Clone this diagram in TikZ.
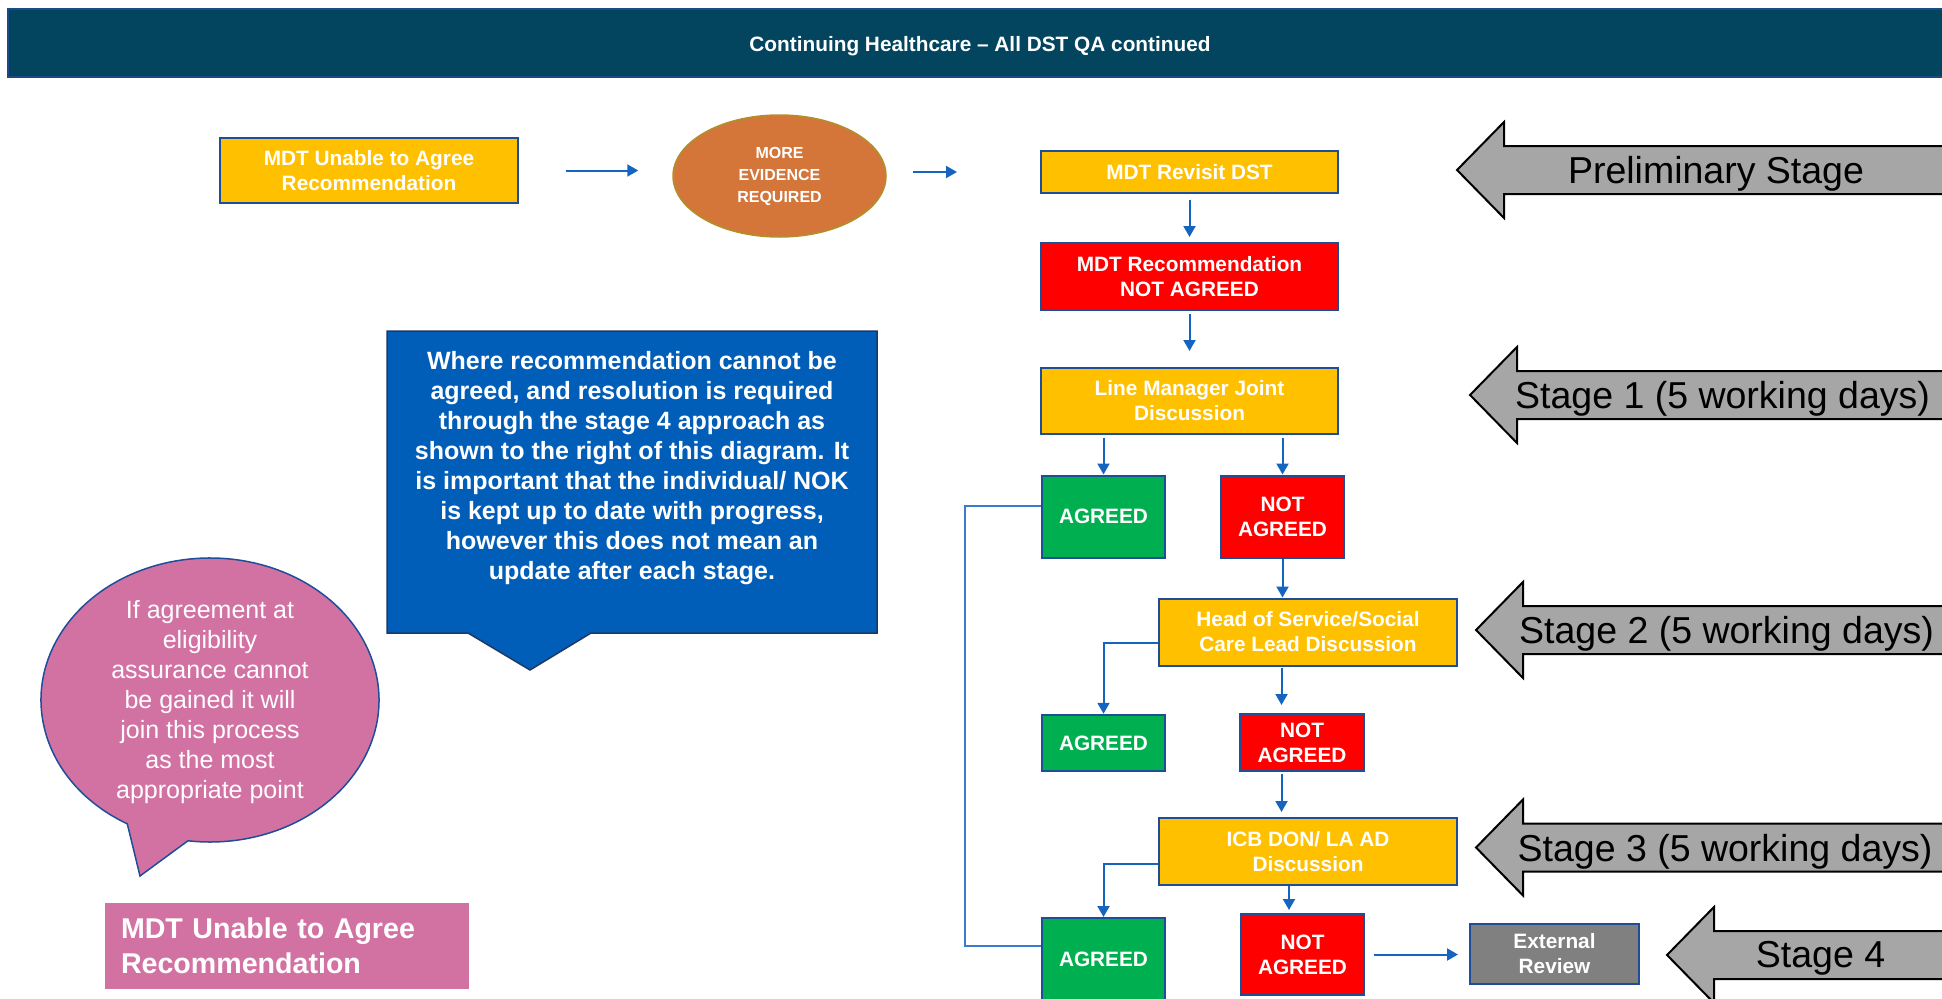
\documentclass[tikz,border=0pt]{standalone}
\usepackage{fontspec}
\setmainfont{Liberation Sans}
\usetikzlibrary{arrows.meta,shapes.geometric}

\definecolor{bannerfill}{HTML}{03445F}
\definecolor{banneredge}{HTML}{1B4A8A}
\definecolor{boxedge}{HTML}{1F4E99}
\definecolor{amber}{HTML}{FFC000}
\definecolor{alarm}{HTML}{FF0000}
\definecolor{okgreen}{HTML}{00B050}
\definecolor{midgrey}{HTML}{808080}
\definecolor{stagegrey}{HTML}{A6A6A6}
\definecolor{flowblue}{HTML}{1565C0}
\definecolor{loopblue}{HTML}{3A7BCB}
\definecolor{notefill}{HTML}{005EB8}
\definecolor{noteedge}{HTML}{1F3864}
\definecolor{pink}{HTML}{D272A3}
\definecolor{rust}{HTML}{D4763A}
\definecolor{olive}{HTML}{B0902A}

\newcommand\boxfont{\fontsize{20.8}{25}\selectfont\bfseries}
\newcommand\stagefont{\fontsize{37.5}{45}\selectfont}

% grey arrow pointing left, tip at #1, running off to the right edge
\newcommand\stagearrow[1]{%
  \path[stageshape] #1 -- ++(47,-48) -- ++(0,24) -- ++(600,0) -- ++(0,48)
    -- ++(-600,0) -- ++(0,24) -- cycle;}

\begin{document}
\begin{tikzpicture}[x=1pt,y=-1pt,
  box/.style={draw=boxedge, line width=2pt, text=white, font=\boxfont,
    align=center, inner sep=0pt},
  flow/.style={draw=flowblue, line width=2pt,
    -{Triangle[length=11pt,width=12pt]}},
  loopline/.style={draw=loopblue, line width=1.5pt},
  stageshape/.style={fill=stagegrey, draw=black, line width=2pt, line join=miter},
  stagetext/.style={font=\stagefont, text=black, inner sep=0pt},
]
\useasboundingbox (0,0) rectangle (1942,998);
\begin{scope}
\clip (0,0) rectangle (1942,998);

% title banner
\path[fill=bannerfill, draw=banneredge, line width=1.5pt] (8,9) rectangle (1950,77);
\node[text=white, font=\fontsize{20.8}{25}\selectfont\bfseries] (title) at (980,46)
  {Continuing Healthcare – All DST QA continued};

% preliminary row
\node[box, fill=amber, minimum width=298pt, minimum height=65pt] (mdtA) at (369,170.5)
  {MDT Unable to Agree\\Recommendation};
\node[ellipse, fill=rust, draw=olive, line width=1.5pt, minimum width=213pt,
  minimum height=122pt, inner sep=0pt, text=white, align=center,
  font=\fontsize{16}{22}\selectfont\bfseries] (ev) at (779.5,176)
  {MORE\\EVIDENCE\\REQUIRED};

% main column
\node[box, fill=amber, minimum width=297pt, minimum height=42pt] (rv) at (1189.5,172)
  {MDT Revisit DST};
\node[box, fill=alarm, minimum width=297pt, minimum height=67pt] (nr) at (1189.5,276.5)
  {MDT Recommendation\\NOT AGREED};
\node[box, fill=amber, minimum width=297pt, minimum height=66pt] (lm) at (1189.5,401)
  {Line Manager Joint\\Discussion};
\node[box, fill=okgreen, minimum width=123pt, minimum height=82.5pt] (ag1) at (1103.5,516.75)
  {AGREED};
\node[box, fill=alarm, minimum width=123pt, minimum height=82.5pt] (na1) at (1282.5,516.75)
  {NOT\\AGREED};
\node[box, fill=amber, minimum width=298pt, minimum height=67pt] (hs) at (1308,632)
  {Head of Service/Social\\Care Lead Discussion};
\node[box, fill=okgreen, minimum width=123pt, minimum height=56.5pt] (ag2) at (1103.5,743)
  {AGREED};
\node[box, fill=alarm, minimum width=124pt, minimum height=57pt] (na2) at (1302,742.5)
  {NOT\\AGREED};
\node[box, fill=amber, minimum width=298pt, minimum height=67pt] (icb) at (1308,851.5)
  {ICB DON/ LA AD\\Discussion};
\node[box, fill=okgreen, minimum width=123pt, minimum height=82pt] (ag3) at (1103.5,959)
  {AGREED};
\node[box, fill=alarm, minimum width=123pt, minimum height=81pt] (na3) at (1302.5,954.5)
  {NOT\\AGREED};
\node[box, fill=midgrey, minimum width=169pt, minimum height=60pt] (er) at (1554.5,954)
  {External\\Review};

\coordinate (colA) at (1281.5,0);
\coordinate (colB) at (1289,0);

% connectors
\draw[flow, shorten <=47pt, shorten >=34pt] (mdtA.east) -- (mdtA.east -| ev.west);
\draw[flow, shorten <=26pt, shorten >=83pt] (rv.west -| ev.east) -- (rv.west);
\draw[flow, shorten <=6pt, shorten >=5pt] (rv) -- (nr);
\draw[flow, shorten <=3pt, shorten >=16pt] (nr) -- (lm);
\draw[flow, shorten <=3pt] (lm.south -| ag1.north) -- (ag1.north);
\draw[flow, shorten <=3pt] (lm.south -| na1.north) -- (na1.north);
\draw[flow] (na1) -- (na1.south |- hs.north);
\draw[flow] ([yshift=-11pt]hs.west) -| (ag2.north);
\draw[flow, shorten <=1pt, shorten >=8pt] (hs.south -| colA) -- (na2.north -| colA);
\draw[flow, shorten <=2pt, shorten >=5pt] (na2.south -| colA) -- (icb.north -| colA);
\draw[flow] ([yshift=-12pt]icb.west) -| (ag3.north);
\draw[flow, shorten >=3pt] (icb.south -| colB) -- (na3.north -| colB);
\draw[flow, shorten <=9pt, shorten >=11pt] (na3.east) -- (na3.east -| er.west);
\draw[loopline] ([yshift=10.75pt]ag1.west) -- ++(-76,0) |- ([yshift=13pt]ag3.west);

% stage markers
\stagearrow{(1457,170)}
\node[stagetext] (s0) at (1716,174) {Preliminary Stage};
\stagearrow{(1470,395)}
\node[stagetext] (s1) at (1722.5,399) {Stage 1 (5 working days)};
\stagearrow{(1476,630)}
\node[stagetext] (s2) at (1726.5,634) {Stage 2 (5 working days)};
\stagearrow{(1476,847.5)}
\node[stagetext] (s3) at (1725,851.5) {Stage 3 (5 working days)};
\stagearrow{(1667,955)}
\node[stagetext] (s4) at (1820.5,958) {Stage 4};

% explanatory callout
\path[fill=notefill, draw=noteedge, line width=1.5pt, line join=miter]
  (387,331) -- (877,331) -- (877,633) -- (591,633) -- (530,670) -- (468,633)
  -- (387,633) -- cycle;
\node[text=white, align=center, font=\fontsize{25}{30}\selectfont\bfseries, inner sep=0pt]
  (note) at (632,468.5)
  {Where recommendation cannot be\\agreed, and resolution is required\\
   through the stage 4 approach as\\shown to the right of this diagram. It\\
   is important that the individual/ NOK\\is kept up to date with progress,\\
   however this does not mean an\\update after each stage.};

% speech bubble
\path[fill=pink, draw=boxedge, line width=1.5pt, shift={(210,700)}]
  (119.3:169 and 142) arc[start angle=119.3, end angle=457.5, x radius=169, y radius=142]
  -- (-70,176) -- cycle;
\node[text=white, align=center, font=\fontsize{25}{30}\selectfont, inner sep=0pt]
  (bubbletext) at (210,702)
  {If agreement at\\eligibility\\assurance cannot\\be gained it will\\
   join this process\\as the most\\appropriate point};

% caption block
\node[fill=pink, minimum width=364pt, minimum height=86pt, text width=332pt,
  inner xsep=16pt, inner ysep=0pt, align=left, text=white,
  font=\fontsize{28.6}{35}\selectfont\bfseries] (caption) at (287,946)
  {MDT Unable to Agree\\Recommendation};

\end{scope}
\end{tikzpicture}
\end{document}
